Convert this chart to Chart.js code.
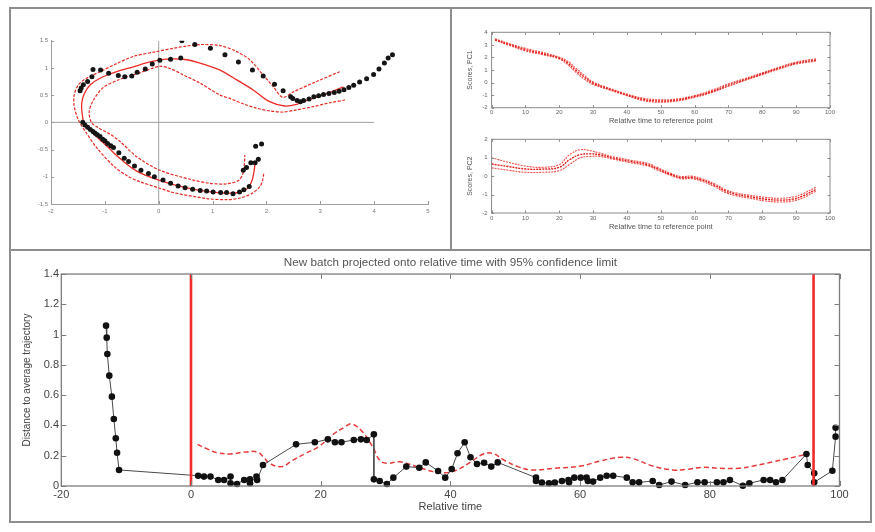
<!DOCTYPE html>
<html>
<head>
<meta charset="utf-8">
<script src="https://cdn.jsdelivr.net/npm/chart.js@4.4.1/dist/chart.umd.min.js"></script>
<style>
  html, body { margin: 0; padding: 0; background: #fff; }
  body { width: 875px; height: 532px; position: relative; overflow: hidden; }
  .rule { position: absolute; background: #8d8d8d; }
  canvas { position: absolute; }
</style>
</head>
<body>
<div class="rule" style="left:9px;top:7px;width:863px;height:2px"></div>
<div class="rule" style="left:9px;top:521px;width:863px;height:2px"></div>
<div class="rule" style="left:9px;top:7px;width:2px;height:516px"></div>
<div class="rule" style="left:870px;top:7px;width:2px;height:516px"></div>
<div class="rule" style="left:450px;top:7px;width:2px;height:243px"></div>
<div class="rule" style="left:9px;top:249px;width:863px;height:2px"></div>

<canvas id="trajectory" width="438" height="240" style="left:11px;top:9px"></canvas>
<canvas id="pc1" width="418" height="119" style="left:452px;top:9px"></canvas>
<canvas id="pc2" width="418" height="121" style="left:452px;top:128px"></canvas>
<canvas id="distance" width="860" height="270" style="left:11px;top:251px"></canvas>

<script>
// ---- score-plane trajectory (PC1 vs PC2) ----
const batchPC1 = [4.34, 4.26, 4.19, 4.09, 3.99, 3.86, 3.73, 3.62, 3.53, 3.44, 3.35, 3.26, 3.16, 3.06, 2.97, 2.88, 2.79, 2.69, 2.63, 2.57, 2.49,
  0.43, 0.67, 0.96, 1.23, 1.48, 1.74, 1.94, 2.15, 2.31, 2.45,
  0.41, 0.22, 0.02, -0.12, -0.25, -0.40, -0.50, -0.63, -0.75, -0.93, -1.08, -1.22, -1.24, -1.32, -1.40, -1.44, -1.46,
  -1.41, -1.37, -1.32, -1.27, -1.22, -1.18, -1.14, -1.09, -1.04, -1.00, -0.95, -0.89, -0.84, -0.74, -0.64, -0.56, -0.45, -0.33, -0.19, -0.08,
  0.08, 0.22, 0.36, 0.49, 0.63, 0.77, 0.89, 1.01, 1.15, 1.26, 1.38, 1.50, 1.58, 1.68, 1.57, 1.63, 1.71, 1.79, 1.85, 1.80, 1.91];
const batchPC2 = [1.24, 1.18, 1.09, 0.98, 0.88, 0.80, 0.74, 0.68, 0.64, 0.60, 0.57, 0.55, 0.53, 0.51, 0.49, 0.47, 0.43, 0.40, 0.38, 0.40, 0.44,
  1.50, 1.43, 1.36, 1.24, 1.11, 0.96, 0.85, 0.70, 0.58, 0.47,
  1.18, 1.16, 1.14, 1.07, 0.98, 0.92, 0.85, 0.84, 0.86, 0.90, 0.96, 0.97, 0.84, 0.75, 0.69, 0.63, 0.58,
  0.00, -0.05, -0.09, -0.13, -0.17, -0.20, -0.23, -0.26, -0.31, -0.34, -0.39, -0.43, -0.46, -0.56, -0.66, -0.72, -0.80, -0.88, -0.94, -1.00,
  -1.06, -1.12, -1.17, -1.20, -1.23, -1.25, -1.26, -1.28, -1.29, -1.29, -1.31, -1.28, -1.24, -1.18, -0.88, -0.83, -0.74, -0.74, -0.68, -0.44, -0.40];

const meanPC1 = [3.43, 3.10, 2.80, 2.56, 2.34, 2.06, 1.76, 1.45, 1.14, 0.89, 0.52, 0.15, -0.16, -0.47, -0.78, -1.09, -1.27, -1.38, -1.43, -1.42, -1.38, -1.20, -0.95, -0.70, -0.40, 0.00, 0.50, 1.00, 1.38, 1.60, 1.72, 1.77, 1.79];
const meanPC2 = [0.65, 0.52, 0.42, 0.33, 0.30, 0.38, 0.59, 0.78, 0.96, 1.05, 1.15, 1.16, 1.11, 1.02, 0.93, 0.81, 0.69, 0.53, 0.35, 0.15, -0.02, -0.22, -0.45, -0.68, -0.90, -1.06, -1.20, -1.28, -1.30, -1.25, -1.10, -0.90, -0.72];

const outerPC1 = [3.36, 2.93, 2.50, 2.30, 2.13, 1.94, 1.69, 1.45, 1.14, 0.80, 0.50, 0.27, -0.04, -0.47, -0.78, -1.09, -1.34, -1.49, -1.57, -1.57, -1.49, -1.34, -1.15, -0.84, -0.59, -0.35, 0.02, 0.27, 0.89, 1.26, 1.51, 1.74, 1.88, 1.93, 1.95];
const outerPC2 = [0.93, 0.75, 0.56, 0.46, 0.65, 0.87, 1.15, 1.30, 1.41, 1.43, 1.40, 1.36, 1.30, 1.21, 1.08, 0.93, 0.81, 0.69, 0.50, 0.30, 0.04, -0.20, -0.47, -0.80, -0.98, -1.09, -1.21, -1.29, -1.40, -1.42, -1.39, -1.30, -1.18, -1.06, -0.94];

const innerPC1 = [3.46, 3.18, 2.87, 2.56, 2.31, 2.06, 1.82, 1.57, 1.32, 1.14, 0.77, 0.46, 0.21, 0.02, -0.35, -0.72, -1.03, -1.21, -1.29, -1.25, -1.12, -0.90, -0.72, -0.41, 0.02, 0.64, 0.95, 1.26, 1.48, 1.56, 1.59, 1.60];
const innerPC2 = [0.41, 0.36, 0.29, 0.23, 0.19, 0.21, 0.26, 0.34, 0.44, 0.50, 0.72, 0.87, 0.99, 1.03, 0.91, 0.79, 0.64, 0.41, 0.20, 0.00, -0.10, -0.22, -0.35, -0.63, -0.88, -1.06, -1.12, -1.13, -1.07, -0.95, -0.78, -0.60];

const originVertX = [0, 0], originVertY = [-1.5, 1.5];
const originHorzX = [-2, 4], originHorzY = [0, 0];

// ---- scores against relative time ----
const pc1Time  = [1, 5, 10, 15, 20, 22.5, 25, 27.5, 30, 35, 40, 45, 50, 55, 60, 65, 70, 75, 80, 85, 90, 96];
const pc1Mean  = [3.42, 3.05, 2.62, 2.30, 1.95, 1.55, 0.95, 0.40, -0.05, -0.54, -0.98, -1.35, -1.47, -1.38, -1.10, -0.72, -0.20, 0.25, 0.70, 1.15, 1.55, 1.80];
const pc1Upper = [3.48, 3.12, 2.72, 2.40, 2.02, 1.70, 1.12, 0.55, 0.05, -0.47, -0.92, -1.25, -1.37, -1.30, -1.03, -0.62, -0.10, 0.33, 0.78, 1.22, 1.63, 1.90];
const pc1Lower = [3.37, 2.98, 2.52, 2.22, 1.88, 1.42, 0.80, 0.25, -0.15, -0.60, -1.04, -1.45, -1.56, -1.46, -1.17, -0.80, -0.30, 0.18, 0.63, 1.08, 1.48, 1.70];

const pc2Time  = [0, 5, 10, 15, 20, 23, 26, 29, 32, 36, 41, 46, 49, 53, 56, 59, 62, 66, 69, 72, 76, 81, 85, 89, 92, 96];
const pc2Mean  = [0.66, 0.52, 0.39, 0.38, 0.48, 0.89, 1.16, 1.21, 1.16, 0.98, 0.80, 0.63, 0.40, 0.09, -0.08, -0.07, -0.20, -0.50, -0.80, -0.98, -1.11, -1.25, -1.30, -1.25, -1.07, -0.70];
const pc2Upper = [1.00, 0.75, 0.55, 0.48, 0.63, 1.16, 1.43, 1.39, 1.25, 1.05, 0.87, 0.70, 0.47, 0.15, -0.02, 0.00, -0.13, -0.42, -0.72, -0.90, -1.03, -1.15, -1.20, -1.13, -0.95, -0.58];
const pc2Lower = [0.45, 0.32, 0.21, 0.21, 0.30, 0.63, 0.98, 1.07, 1.07, 0.92, 0.73, 0.56, 0.33, 0.03, -0.14, -0.13, -0.27, -0.58, -0.88, -1.06, -1.19, -1.35, -1.40, -1.35, -1.18, -0.80];

// ---- distance of the new batch to the average trajectory ----
const batchTime = [-13.1, -13.0, -12.9, -12.6, -12.2, -11.9, -11.6, -11.4, -11.1,
  1.1, 2.0, 3.0, 4.2, 5.1, 6.1, 6.1, 7.1, 8.2, 9.1, 9.1, 10.1, 10.2, 11.1, 16.2, 19.1, 21.1, 22.2, 23.2, 25.1, 26.2, 27.1, 28.2, 28.2,
  29.1, 30.2, 31.2, 33.2, 35.2, 36.2, 38.1, 39.2, 40.2, 41.1, 42.2, 43.1, 44.1, 45.2, 46.3, 47.3, 53.2, 53.2, 54.1, 55.2, 56.1, 57.2,
  58.2, 58.3, 59.1, 60.1, 61.0, 61.2, 62.0, 63.1, 64.1, 65.1, 67.2, 68.1, 69.1, 71.2, 72.2, 74.1, 76.2, 78.1, 79.2, 81.1, 82.1, 83.1,
  85.1, 86.1, 88.3, 89.3, 90.2, 91.2, 94.9, 95.1, 96.1, 96.1, 98.9, 99.4, 99.4];
const batchDistance = [1.059, 0.98, 0.872, 0.729, 0.59, 0.443, 0.315, 0.22, 0.106,
  0.068, 0.062, 0.062, 0.04, 0.04, 0.062, 0.018, 0.013, 0.04, 0.044, 0.018, 0.062, 0.04, 0.139, 0.275, 0.289, 0.308, 0.289, 0.289, 0.304, 0.308, 0.304, 0.341, 0.044,
  0.033, 0.013, 0.055, 0.128, 0.121, 0.156, 0.099, 0.055, 0.112, 0.216, 0.289, 0.19, 0.145, 0.154, 0.128, 0.156, 0.055, 0.033, 0.022, 0.018, 0.022, 0.033,
  0.04, 0.024, 0.055, 0.055, 0.055, 0.033, 0.029, 0.055, 0.068, 0.068, 0.055, 0.024, 0.024, 0.033, 0.007, 0.029, 0.007, 0.024, 0.024, 0.024, 0.024, 0.04,
  0.002, 0.018, 0.04, 0.04, 0.024, 0.04, 0.211, 0.139, 0.084, 0.024, 0.101, 0.326, 0.385];

const limitTime = [1, 2.5, 4, 6, 8.4, 10.2, 11.1, 12.1, 14, 15.6, 17.7, 19.7, 21.8, 23.8, 24.8, 26.4, 28, 29.1, 30.2, 32.2, 34.8, 37.3, 39.2,
  41, 43.2, 45, 46.5, 48.3, 50.4, 52.5, 56, 60.1, 63.1, 66.2, 68.2, 71.2, 74.3, 76.4, 79, 81.5, 84.6, 86.7, 89.8, 91.9, 95];
const limitDistance = [0.275, 0.245, 0.22, 0.212, 0.225, 0.225, 0.195, 0.15, 0.128, 0.168, 0.216, 0.26, 0.337, 0.392, 0.41, 0.36, 0.26, 0.17, 0.15, 0.16, 0.128, 0.095, 0.087,
  0.106, 0.16, 0.21, 0.216, 0.17, 0.128, 0.106, 0.117, 0.132, 0.165, 0.19, 0.18, 0.132, 0.106, 0.11, 0.123, 0.117, 0.117, 0.132, 0.16, 0.18, 0.21];

const phaseMarkers = [0, 96];   // start of the reference window and end of batch
const timeTicks = [-20, 100, 20];
const distanceTicks = [0, 1.4, 0.2];

// ---------------------------------------------------------------------------
Chart.defaults.font.family = "'Liberation Sans', Arial, Helvetica, sans-serif";
Chart.defaults.animation = false;
Chart.defaults.plugins.legend.display = false;
Chart.defaults.plugins.tooltip.enabled = false;

const RED = '#ec2a25';
const pts = (xs, ys) => xs.map((x, i) => ({ x, y: ys[i] }));
const plainNumber = v => String(Math.round(v * 100) / 100);

// Frame round the plot area plus short inward tick marks, MATLAB style
const frameTicks = {
  id: 'frameTicks',
  afterDatasetsDraw(chart, _args, opts) {
    const { ctx, chartArea: a } = chart;
    const xs = chart.scales.x, ys = chart.scales.y;
    const sides = opts.sides || '';
    ctx.save();
    ctx.strokeStyle = opts.color || '#888';
    if (opts.box) {
      ctx.lineWidth = opts.boxWidth || 1;
      ctx.strokeRect(a.left, a.top, a.right - a.left, a.bottom - a.top);
    }
    ctx.lineWidth = 1;
    ctx.beginPath();
    const L = opts.length || 3;
    xs.ticks.forEach((t, i) => {
      const p = Math.round(xs.getPixelForTick(i)) + 0.5;
      if (sides.includes('b')) { ctx.moveTo(p, a.bottom); ctx.lineTo(p, a.bottom - L); }
      if (sides.includes('t')) { ctx.moveTo(p, a.top); ctx.lineTo(p, a.top + L); }
    });
    ys.ticks.forEach((t, i) => {
      const p = Math.round(ys.getPixelForTick(i)) + 0.5;
      if (sides.includes('l')) { ctx.moveTo(a.left, p); ctx.lineTo(a.left + L, p); }
      if (sides.includes('r')) { ctx.moveTo(a.right, p); ctx.lineTo(a.right - L, p); }
    });
    ctx.stroke();
    ctx.restore();
  }
};

// Centre the chart title over the plot area rather than the whole canvas
const titleOverPlot = {
  id: 'titleOverPlot',
  afterLayout(chart) {
    const tb = chart.titleBlock;
    if (tb) {
      tb.left = chart.chartArea.left;
      tb.right = chart.chartArea.right;
      tb.width = tb.right - tb.left;
    }
  }
};

function axis(min, max, step, o) {
  return {
    type: 'linear', min, max,
    grid: { display: false, drawTicks: false },
    border: o.border || { display: false },
    ticks: { stepSize: step, font: { size: o.tickSize }, color: o.tickColor, padding: o.tickPad, autoSkip: false, maxRotation: 0, callback: plainNumber },
    title: o.title ? { display: true, text: o.title, font: { size: o.titleSize }, color: o.titleColor, padding: o.titlePad } : { display: false },
    afterFit: s => { if (o.w !== undefined) s.width = o.w; if (o.h !== undefined) s.height = o.h; }
  };
}

// ---- score plane ----
new Chart(document.getElementById('trajectory'), {
  type: 'scatter',
  data: {
    datasets: [
      { data: pts(batchPC1, batchPC2), pointRadius: 2.5, pointBackgroundColor: '#151515', pointBorderWidth: 0, order: 0 },
      { data: pts(meanPC1, meanPC2), showLine: true, borderColor: RED, borderWidth: 1.3, tension: 0.35, pointRadius: 0, order: 1 },
      { data: pts(outerPC1, outerPC2), showLine: true, borderColor: RED, borderWidth: 1.2, borderDash: [3, 1.5], tension: 0.3, pointRadius: 0, order: 2 },
      { data: pts(innerPC1, innerPC2), showLine: true, borderColor: RED, borderWidth: 1.2, borderDash: [3, 1.5], tension: 0.3, pointRadius: 0, order: 3 },
      { data: pts(originVertX, originVertY), showLine: true, borderColor: '#a0a0a0', borderWidth: 1, pointRadius: 0, order: 4 },
      { data: pts(originHorzX, originHorzY), showLine: true, borderColor: '#a0a0a0', borderWidth: 1, pointRadius: 0, order: 5 }
    ]
  },
  options: {
    responsive: false,
    layout: { padding: { left: 0, top: 31.7, right: 21, bottom: 31 } },
    scales: {
      x: axis(-2, 5, 1, { tickSize: 6, tickColor: '#777', tickPad: 4, h: 14, border: { display: true, color: '#a0a0a0', width: 1 } }),
      y: axis(-1.5, 1.5, 0.5, { tickSize: 6, tickColor: '#777', tickPad: 3, w: 40, border: { display: true, color: '#a0a0a0', width: 1 } })
    },
    plugins: { frameTicks: { sides: 'lb', length: 3, color: '#999' } }
  },
  plugins: [frameTicks]
});

// ---- score traces ----
function scoreChart(id, time, mean, upper, lower, yMin, yMax, yLabel, pad) {
  const band = (ys, w, c) => ({ data: pts(time, ys), showLine: true, borderColor: c, borderWidth: w, borderDash: [2, 1], tension: 0.4, pointRadius: 0 });
  new Chart(document.getElementById(id), {
    type: 'scatter',
    data: { datasets: [band(mean, 1.4, '#e3201c'), band(upper, 1.1, '#f0504c'), band(lower, 1.1, '#f0504c')] },
    options: {
      responsive: false,
      layout: { padding: pad },
      scales: {
        x: axis(0, 100, 10, { tickSize: 6, tickColor: '#666', tickPad: 1.5, h: 18,
          title: 'Relative time to reference point', titleSize: 7.5, titleColor: '#555', titlePad: { top: 0, bottom: 0 } }),
        y: axis(yMin, yMax, 1, { tickSize: 6, tickColor: '#666', tickPad: 4, w: 39.6,
          title: yLabel, titleSize: 7, titleColor: '#555', titlePad: { top: 13.8, bottom: 0 } })
      },
      plugins: { frameTicks: { box: true, boxWidth: 1, sides: 'tblr', length: 2.5, color: '#8a8a8a' } }
    },
    plugins: [frameTicks]
  });
}
scoreChart('pc1', pc1Time, pc1Mean, pc1Upper, pc1Lower, -2, 4, 'Scores, PC1', { left: 0, top: 23.3, right: 40, bottom: 2.3 });
scoreChart('pc2', pc2Time, pc2Mean, pc2Upper, pc2Lower, -2, 2, 'Scores, PC2', { left: 0, top: 11.3, right: 40, bottom: 18 });

// ---- distance to the average trajectory ----
new Chart(document.getElementById('distance'), {
  type: 'scatter',
  data: {
    datasets: [
      ...phaseMarkers.map((t, i) => ({ data: pts([t, t], [distanceTicks[0], distanceTicks[1]]), showLine: true, borderColor: '#f02a2a', borderWidth: 2.6, pointRadius: 0, order: i })),
      { data: pts(batchTime, batchDistance), showLine: true, borderColor: '#4a4a4a', borderWidth: 1, pointRadius: 3.3, pointBackgroundColor: '#111', pointBorderWidth: 0, clip: 8, order: 3 },
      { data: pts(limitTime, limitDistance), showLine: true, borderColor: '#e8393a', borderWidth: 1.5, borderDash: [5, 3], tension: 0.4, pointRadius: 0, order: 4 }
    ]
  },
  options: {
    responsive: false,
    layout: { padding: { left: 0, top: 0, right: 31.5, bottom: 7 } },
    scales: {
      x: axis(timeTicks[0], timeTicks[1], timeTicks[2], { tickSize: 11, tickColor: '#444', tickPad: 2.4, h: 28,
        title: 'Relative time', titleSize: 11, titleColor: '#444', titlePad: { top: 0, bottom: 0.4 } }),
      y: axis(distanceTicks[0], distanceTicks[1], distanceTicks[2], { tickSize: 11, tickColor: '#444', tickPad: 2.3, w: 50.3,
        title: 'Distance to average trajectory', titleSize: 10, titleColor: '#444', titlePad: { top: 10, bottom: 0 } })
    },
    plugins: {
      title: { display: true, text: 'New batch projected onto relative time with 95% confidence limit', color: '#555',
        font: { size: 11.7, weight: 'normal' }, padding: { top: 5, bottom: 4 } },
      frameTicks: { box: true, boxWidth: 1.3, sides: 'tblr', length: 5, color: '#7d7d7d' }
    }
  },
  plugins: [frameTicks, titleOverPlot]
});
</script>
</body>
</html>
